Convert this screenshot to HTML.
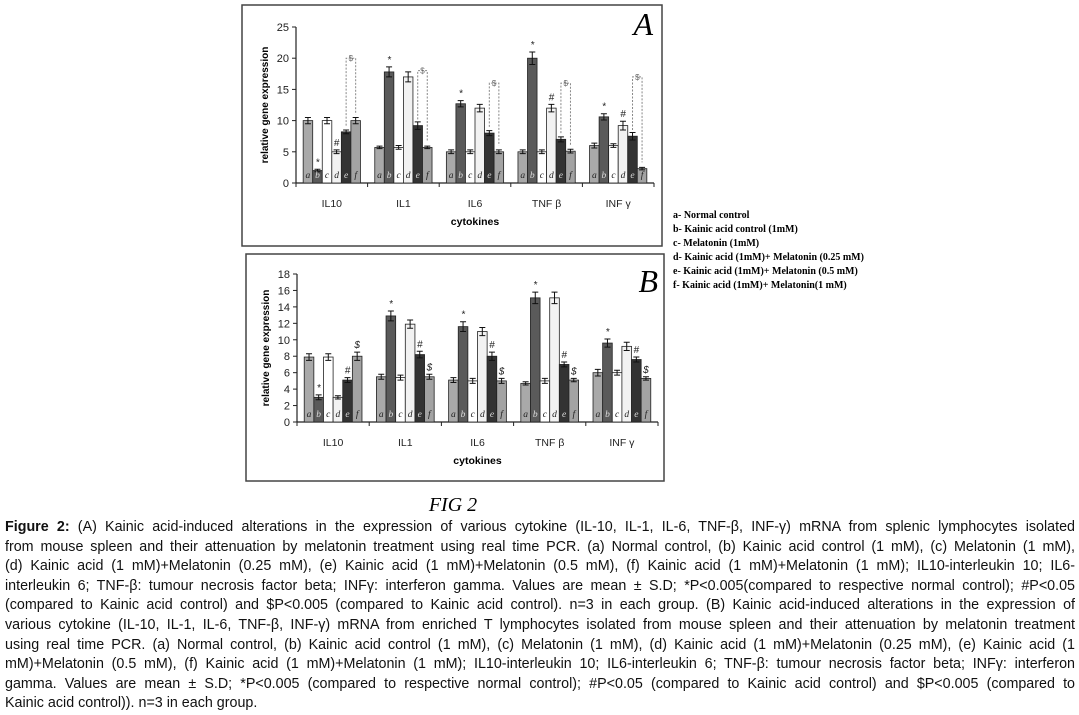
<!DOCTYPE html>
<html><head><meta charset="utf-8"><style>
body{margin:0;width:1079px;height:715px;background:#fff;overflow:hidden;position:relative;font-family:"Liberation Sans",sans-serif}
svg{position:absolute;left:0;top:0}
#cap{position:absolute;left:5px;top:518px;width:1070px;font-size:14.3px;line-height:19.6px;color:#111}
#cap div{text-align:justify;text-align-last:justify;white-space:normal;height:19.6px;overflow:hidden}
#cap div.last{text-align-last:left}
.leg{font-family:"Liberation Serif",serif;font-weight:bold;font-size:10px}
</style></head><body>
<svg id="fig" width="1079" height="515">
<rect x="242" y="5" width="420" height="241" fill="none" stroke="#444" stroke-width="1.5"/>
<rect x="246" y="254" width="418" height="227" fill="none" stroke="#444" stroke-width="1.5"/>
<text x="653" y="35" font-family="Liberation Serif" font-style="italic" font-size="32" text-anchor="end">A</text>
<text x="658" y="292" font-family="Liberation Serif" font-style="italic" font-size="32" text-anchor="end">B</text>
<text x="453" y="511" font-family="Liberation Serif" font-style="italic" font-size="20" text-anchor="middle">FIG 2</text>
<g class="leg">
<text x="673" y="218">a- Normal control</text>
<text x="673" y="232">b- Kainic acid control (1mM)</text>
<text x="673" y="246">c- Melatonin (1mM)</text>
<text x="673" y="260">d- Kainic acid (1mM)+ Melatonin (0.25 mM)</text>
<text x="673" y="274">e- Kainic acid (1mM)+ Melatonin (0.5 mM)</text>
<text x="673" y="288">f- Kainic acid (1mM)+ Melatonin(1 mM)</text>
</g>
</svg>
<div id="cap">
<div><b>Figure 2:</b> (A) Kainic acid-induced alterations in the expression of various cytokine (IL-10, IL-1, IL-6, TNF-β, INF-γ) mRNA from splenic lymphocytes isolated</div>
<div>from mouse spleen and their attenuation by melatonin treatment using real time PCR. (a) Normal control, (b) Kainic acid control (1 mM), (c) Melatonin (1 mM),</div>
<div>(d) Kainic acid (1 mM)+Melatonin (0.25 mM), (e) Kainic acid (1 mM)+Melatonin (0.5 mM), (f) Kainic acid (1 mM)+Melatonin (1 mM); IL10-interleukin 10; IL6-</div>
<div>interleukin 6; TNF-β: tumour necrosis factor beta; INFγ: interferon gamma. Values are mean ± S.D; *P&lt;0.005(compared to respective normal control); #P&lt;0.05</div>
<div>(compared to Kainic acid control) and $P&lt;0.005 (compared to Kainic acid control). n=3 in each group. (B) Kainic acid-induced alterations in the expression of</div>
<div>various cytokine (IL-10, IL-1, IL-6, TNF-β, INF-γ) mRNA from enriched T lymphocytes isolated from mouse spleen and their attenuation by melatonin treatment</div>
<div>using real time PCR. (a) Normal control, (b) Kainic acid control (1 mM), (c) Melatonin (1 mM), (d) Kainic acid (1 mM)+Melatonin (0.25 mM), (e) Kainic acid (1</div>
<div>mM)+Melatonin (0.5 mM), (f) Kainic acid (1 mM)+Melatonin (1 mM); IL10-interleukin 10; IL6-interleukin 6; TNF-β: tumour necrosis factor beta; INFγ: interferon</div>
<div>gamma. Values are mean ± S.D; *P&lt;0.005 (compared to respective normal control); #P&lt;0.05 (compared to Kainic acid control) and $P&lt;0.005 (compared to</div>
<div class="last">Kainic acid control)). n=3 in each group.</div>
</div>
<script>
const categories=["IL10","IL1","IL6","TNF β","INF  γ"];
const groupLetters=["a","b","c","d","e","f"];
const seriesA=[[10,2,10,5,8.2,10],[5.7,17.8,5.7,17,9.2,5.7],[5,12.7,5,12,8,5],[5,20,5,12,7,5.1],[6,10.6,6,9.2,7.5,2.3]];
const seriesB=[[7.9,3,7.9,3,5.1,8],[5.5,12.9,5.4,11.9,8.2,5.5],[5.1,11.6,5,11,8,5],[4.7,15.1,5,15.1,7,5.1],[6,9.6,6,9.2,7.6,5.3]];
const errA=[[0.5,0.2,0.5,0.3,0.3,0.5],[0.2,0.8,0.3,0.8,0.6,0.2],[0.3,0.5,0.3,0.6,0.4,0.3],[0.3,1,0.3,0.6,0.4,0.3],[0.4,0.5,0.3,0.7,0.6,0.2]];
const errB=[[0.4,0.3,0.4,0.2,0.3,0.5],[0.3,0.6,0.3,0.5,0.4,0.3],[0.3,0.6,0.3,0.5,0.5,0.3],[0.2,0.7,0.3,0.7,0.3,0.2],[0.4,0.5,0.3,0.5,0.3,0.2]];
const ticksA=[0,5,10,15,20,25];
const ticksB=[0,2,4,6,8,10,12,14,16,18];
const fills=["#a9a9a9","#5a5a5a","#ffffff","#f2f2f2","#333333","#a3a3a3"];
const NS="http://www.w3.org/2000/svg";
const svg=document.getElementById("fig");
function mk(t,a,p){const e=document.createElementNS(NS,t);for(const k in a)e.setAttribute(k,a[k]);(p||svg).appendChild(e);return e;}
function chart(cfg,series,errs,ticks,name){
 const g=mk("g",{});
 
 
 const max=ticks[ticks.length-1];
 const y=v=>cfg.y0-(v/max)*(cfg.y0-cfg.yTop);
 const cw=(cfg.x1-cfg.x0)/categories.length;
 const x=i=>cfg.x0+i*cw;
 const bw=cw*0.8/6;
 mk("line",{x1:cfg.x0,y1:cfg.yTop,x2:cfg.x0,y2:cfg.y0,stroke:"#222","stroke-width":1.2},g);
 mk("line",{x1:cfg.x0,y1:cfg.y0,x2:cfg.x1,y2:cfg.y0,stroke:"#222","stroke-width":1.2},g);
 ticks.forEach(t=>{
  mk("line",{x1:cfg.x0-4,y1:y(t),x2:cfg.x0,y2:y(t),stroke:"#222"},g);
  const tx=mk("text",{x:cfg.x0-7,y:y(t)+4,"font-size":11,"text-anchor":"end",fill:"#222"},g);
  tx.textContent=t;
  
  
 });
 for(let i=0;i<=categories.length;i++) mk("line",{x1:x(i),y1:cfg.y0,x2:x(i),y2:cfg.y0+4,stroke:"#222"},g);
 categories.forEach((c,i)=>{
  const tx=mk("text",{x:x(i)+cw/2,y:cfg.y0+24,"font-size":10.5,"text-anchor":"middle",fill:"#222"},g);
  tx.textContent=c;
  
  
  const start=x(i)+cw*0.1;
  series[i].forEach((v,j)=>{
   const bx=start+j*bw;
   const r=mk("rect",{x:bx,y:y(v),width:bw,height:cfg.y0-y(v),fill:fills[j],stroke:"#222","stroke-width":0.8},g);
   
   
   const e=errs[i][j],cx=bx+bw/2;
   mk("path",{d:`M${cx},${y(v+e)}V${y(v-e)}M${cx-3},${y(v+e)}H${cx+3}M${cx-3},${y(v-e)}H${cx+3}`,stroke:"#111","stroke-width":1,fill:"none"},g);
   const lt=mk("text",{x:cx,y:cfg.y0-5,"font-size":9.5,"font-family":"Liberation Serif","font-style":"italic","text-anchor":"middle",fill:j==1||j==4?"#ddd":"#222"},g);
   lt.textContent=groupLetters[j];
  });
  const mark=(j,s)=>{const cx=start+j*bw+bw/2;const t=mk("text",{x:cx,y:y(series[i][j]+errs[i][j])-4,"font-size":10,"text-anchor":"middle",fill:"#222","font-style":"italic"},g);t.textContent=s;};
  mark(1,"*");
  if(cfg.hashIdx[i]>=0) mark(cfg.hashIdx[i],"#");
  if(cfg.dollar){
   const xe=start+4.5*bw,xf=start+5.5*bw,top=y(cfg.dollarTop[i]);
   mk("path",{d:`M${xe},${y(series[i][4]+1)}V${top}H${xf}V${y(series[i][5]+1)}`,stroke:"#888","stroke-dasharray":"2,1.5",fill:"none"},g);
   const d=mk("text",{x:(xe+xf)/2,y:top+3,"font-size":8,"text-anchor":"middle",fill:"#666"},g);d.textContent="$";
  } else mark(5,"$");
 });
 const xl=mk("text",{x:(cfg.x0+cfg.x1)/2,y:cfg.y0+42,"font-size":10.5,"font-weight":"bold","text-anchor":"middle"},g);
 xl.textContent="cytokines";
 
 
 const yl=mk("text",{x:0,y:0,"font-size":10,"font-weight":"bold","text-anchor":"middle",transform:`translate(${cfg.x0-28},${(cfg.y0+cfg.yTop)/2}) rotate(-90)`},g);
 yl.textContent="relative gene expression";
 
 
}
chart({x0:296,x1:654,y0:183,yTop:27,hashIdx:[3,-1,-1,3,3],dollar:true,dollarTop:[20,18,16,16,17]},seriesA,errA,ticksA,"chart-a");
chart({x0:297,x1:658,y0:422,yTop:274,hashIdx:[4,4,4,4,4],dollar:false},seriesB,errB,ticksB,"chart-b");
</script>
</body></html>
